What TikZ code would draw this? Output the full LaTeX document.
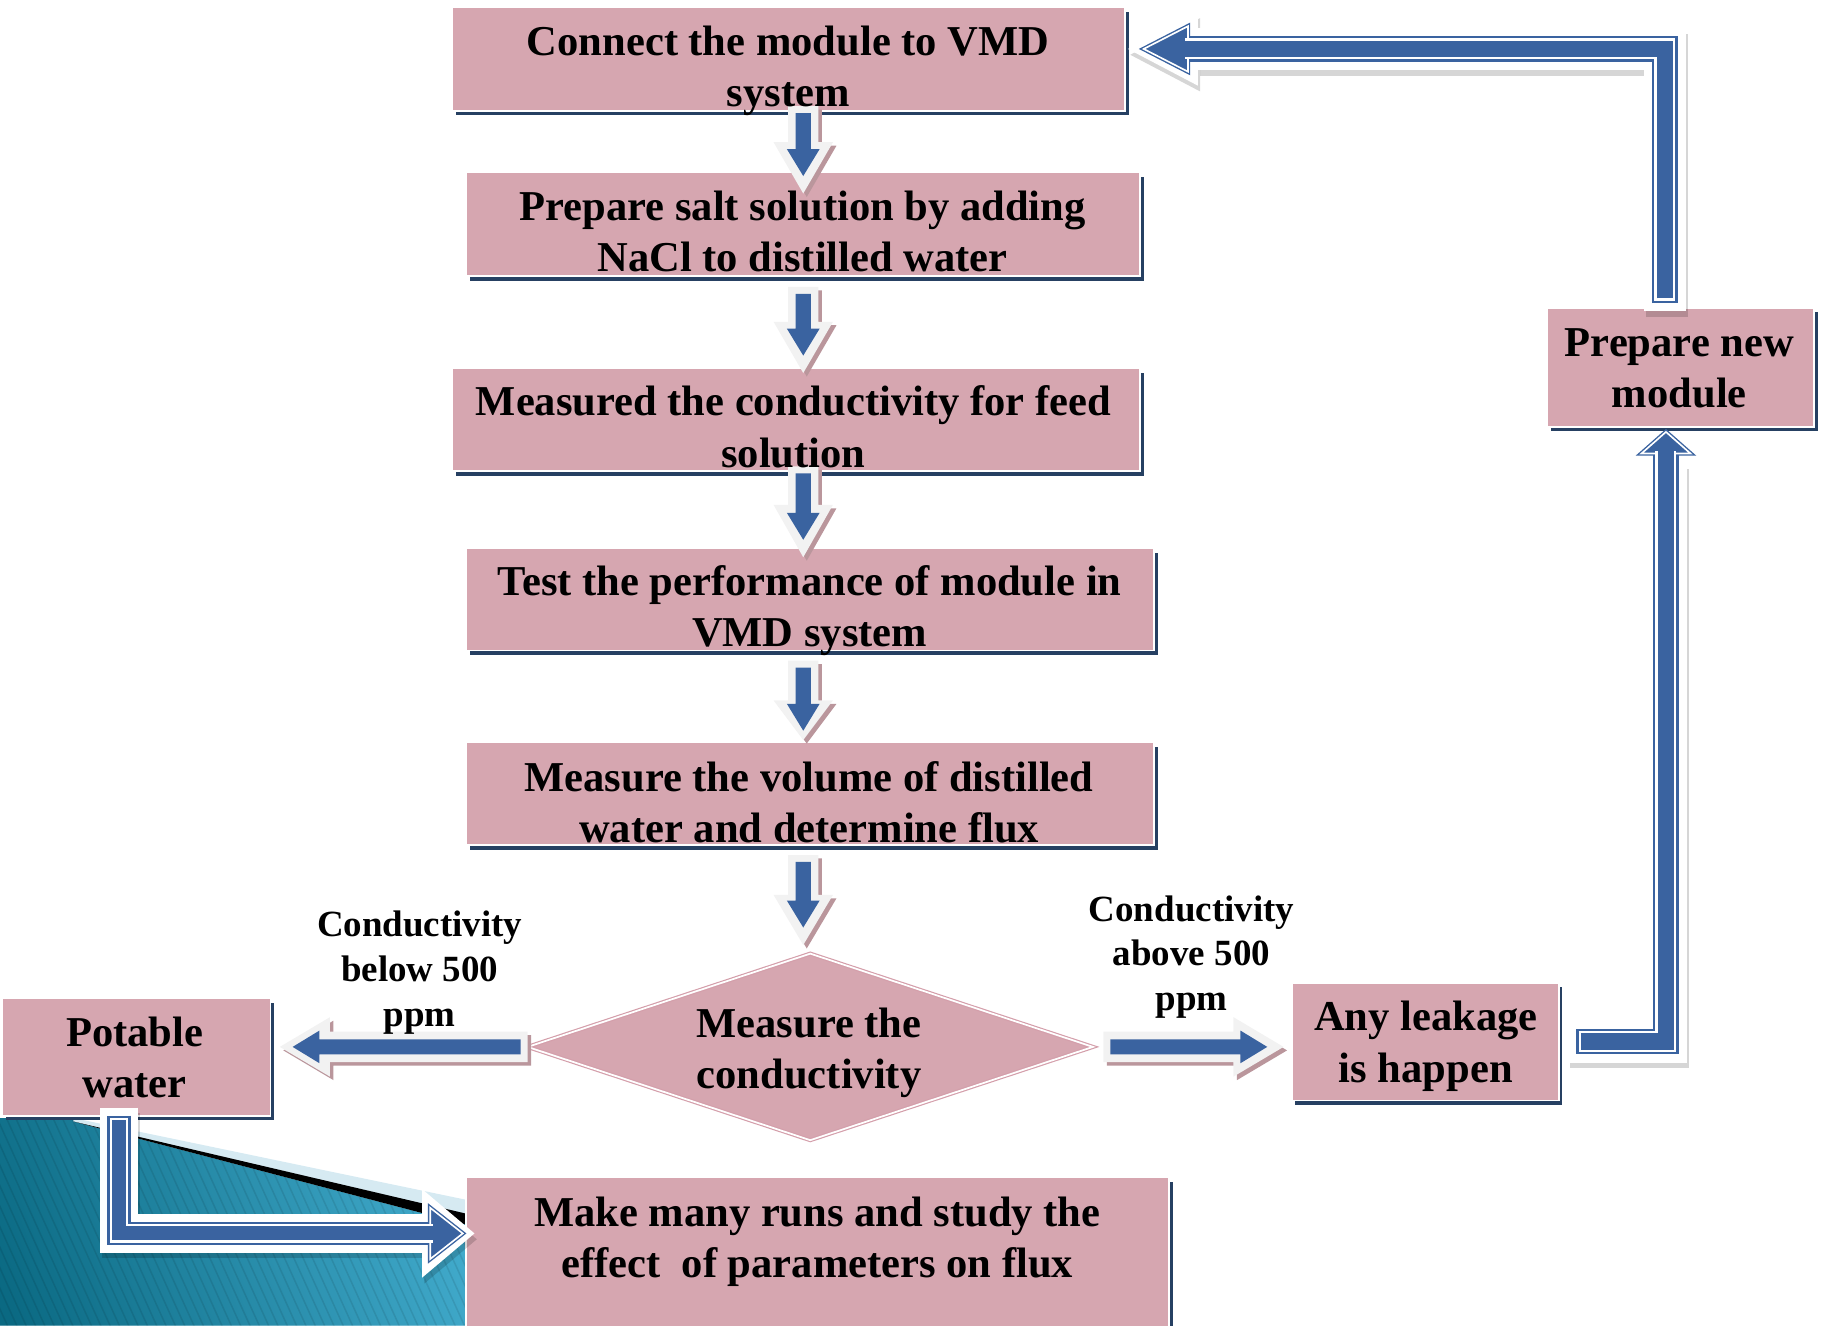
\documentclass[tikz,border=0pt]{standalone}
\usepackage{fontspec}
\setmainfont{Liberation Serif}
\usetikzlibrary{calc,shapes.geometric,shadows}
\definecolor{boxpink}{RGB}{214,166,176}
\definecolor{boxshade}{RGB}{38,64,98}
\definecolor{arrblue}{RGB}{58,99,160}
\definecolor{arrlight}{RGB}{242,242,242}
\definecolor{arrshade}{RGB}{186,150,156}
\definecolor{dialine}{RGB}{212,158,170}
\definecolor{tealA}{RGB}{10,105,130}
\definecolor{tealD}{RGB}{70,176,210}
\definecolor{bandblue}{RGB}{214,234,242}
\newcommand\mytop{\rule{0pt}{0.7em}}
\newcommand\mybot{\rule[-0.22em]{0pt}{0.22em}}
% polygon of a block arrow: [style]{tail}{head base}{tip}{shaft half}{head half}
\newcommand\arrpoly[6][]{\fill[#1] ($(#2)!#5!90:(#4)$) -- ($(#3)!#5!90:(#4)$) -- ($(#3)!#6!90:(#4)$) -- (#4) -- ($(#3)!#6!-90:(#4)$) -- ($(#3)!#5!-90:(#4)$) -- ($(#2)!#5!-90:(#4)$) -- cycle;}
% triangle head: [style]{base}{tip}{half width}
\newcommand\headtri[4][]{\path[#1] ($(#2)!#4!90:(#3)$) -- (#3) -- ($(#2)!#4!-90:(#3)$) -- cycle;}
% straight block arrow: {tail}{tip}{head length}{blue tip inset}
\newcommand\blockarrow[4]{%
  \coordinate (ba-s) at (#1);
  \coordinate (ba-e) at (#2);
  \coordinate (ba-h) at ($(ba-e)!#3!(ba-s)$);
  \coordinate (ba-is) at ($(ba-s)!6pt!(ba-e)$);
  \coordinate (ba-ie) at ($(ba-e)!#4!(ba-s)$);
  \coordinate (ba-ih) at ($(ba-ie)!23pt!(ba-s)$);
  \arrpoly[arrshade,transform canvas={xshift=3pt,yshift=-3pt}]{ba-s}{ba-h}{ba-e}{13pt}{25.5pt}
  \arrpoly[arrlight]{ba-s}{ba-h}{ba-e}{13pt}{25.5pt}
  \arrpoly[arrblue]{ba-is}{ba-ih}{ba-ie}{6.5pt}{14pt}}
\begin{document}
\begin{tikzpicture}[x=1pt,y=1pt,
  box/.style={rectangle, fill=boxpink, draw=white, line width=1.5pt, inner sep=0pt, outer sep=0pt,
    drop shadow={shadow xshift=3pt, shadow yshift=-4pt, fill=boxshade, opacity=1}},
  boxtext/.style={font=\fontsize{36.5}{44}\selectfont\bfseries, align=center, inner sep=0pt, yshift=-3pt},
  lbltext/.style={font=\fontsize{31.7}{38.5}\selectfont\bfseries, align=center, inner sep=0pt, yshift=-2.5pt},
  bentshadow/.style={black, opacity=0.16, transform canvas={xshift=2pt,yshift=-5pt}},
  bluehead/.style={fill=arrblue, draw=arrblue, line width=1.2pt, double=white, double distance=1.4pt, line join=miter}]
\useasboundingbox (0,0) rectangle (1568,1137);
\clip (0,0) rectangle (1568,1137);
% ---- background decoration (bottom left)
\fill[bandblue] (0,178) -- (62.9,178) -- (404,107) -- (404,0) -- (0,0) -- cycle;
\begin{scope}
  \clip (0,178) -- (62.9,178) -- (62.9,175) -- (404,85.5) -- (404,0) -- (0,0) -- cycle;
  \shade[left color=tealA, right color=tealD, shading angle=110] (-40,-40) rectangle (444,218);
  \foreach \i in {-120,-112,...,420} \draw[black, opacity=0.09, line width=1.3pt] (\i,190) -- ++(95,-209);
\end{scope}
\fill[black] (62.9,175) -- (404,95) -- (404,85.5) -- cycle;
% ---- boxes
\node[box, minimum width=577pt, minimum height=89pt] (b1) at (676.5,1086.5) {};
\node[box, minimum width=578pt, minimum height=89pt] (b2) at (689,944.5) {};
\node[box, minimum width=590pt, minimum height=88pt] (b3) at (683,777) {};
\node[box, minimum width=590pt, minimum height=88pt] (b4) at (695,623) {};
\node[box, minimum width=590pt, minimum height=88pt] (b5) at (695,456) {};
\node[diamond, aspect=3, minimum width=485pt, minimum height=160pt, inner sep=0pt, outer sep=0pt,
  fill=boxpink, draw=dialine, line width=1pt, double=white, double distance=1.5pt] (dia) at (695,239) {};
\node[box, minimum width=230pt, minimum height=101pt] (b7) at (117,230.5) {};
\node[box, minimum width=229pt, minimum height=101pt] (b8) at (1222.5,243.5) {};
\node[box, minimum width=229pt, minimum height=102pt] (b9) at (1441.5,822) {};
\node[box, minimum width=603pt, minimum height=140pt] (b10) at (701.5,57) {};
% ---- straight arrows
\coordinate (col) at (689,0);
\blockarrow{$(b1.south -| col)+(0,4)$}{$(b2.north -| col)+(0,-18)$}{44pt}{15pt}
\blockarrow{$(b2.south -| col)+(0,-9)$}{$(b3.north -| col)+(0,-4)$}{44pt}{15pt}
\blockarrow{$(b3.south -| col)+(0,4)$}{$(b4.north -| col)+(0,-8)$}{45pt}{15pt}
\blockarrow{$(b4.south -| col)+(0,-8.7)$}{$(b5.north -| col)+(0,2.2)$}{34pt}{8pt}
\blockarrow{$(b5.south -| col)+(0,-8.4)$}{$(dia.north -| col)+(0,7.4)$}{43pt}{15pt}
\blockarrow{dia.west}{$(dia.west -| b7.east)+(8,0)$}{43pt}{11pt}
\blockarrow{$(dia.east)+(9,0)$}{$(dia.east -| b8.west)+(-7,0)$}{43pt}{14pt}
% ---- bent arrow: Potable water -> Make many runs
\coordinate (A0) at ($(b7.south west)+(100,7)$);
\coordinate (At) at ($(b10.north west)+(7,-48)$);
\coordinate (A1) at (A0 |- At);
\coordinate (Awb) at ($(At)+(-45,0)$);
\coordinate (Abt) at ($(At)+(-10,0)$);
\coordinate (Abb) at ($(At)+(-38,0)$);
\draw[bentshadow, line width=33pt] (A0) -- (A1) -- (Awb);
\headtri[bentshadow, fill=black]{Awb}{At}{38pt}
\draw[white, line width=33pt] (A0) -- (A1) -- (Awb);
\headtri[fill=white]{Awb}{At}{38pt}
\draw[arrblue, line width=20pt] ($(A0)+(0,-7)$) -- (A1) -- (Abb);
\headtri[bluehead]{Abb}{Abt}{22pt}
\draw[white, line width=16pt] ($(A0)+(0,-9)$) -- (A1) -- ($(Abb)+(2.5,0)$);
\draw[arrblue, line width=12pt] ($(A0)+(0,-11)$) -- (A1) -- ($(Abb)+(5,0)$);
% ---- bent arrow: Any leakage -> Prepare new module
\coordinate (B0) at ($(b8.east)+(8,0)$);
\coordinate (Bt) at ($(b9.south)+(-12.5,-4.5)$);
\coordinate (B1) at (Bt |- B0);
\coordinate (Bbb) at ($(Bt)+(0,-18.5)$);
\draw[bentshadow, line width=36pt] (B0) -- (B1) -- ($(Bbb)+(0,-8)$);
\draw[white, line width=36pt] (B0) -- (B1) -- (Bbb);
\draw[arrblue, line width=22pt] ($(B0)+(7,0)$) -- (B1) -- (Bbb);
\headtri[bluehead]{Bbb}{Bt}{21pt}
\draw[white, line width=18pt] ($(B0)+(9,0)$) -- (B1) -- ($(Bbb)+(0,2.5)$);
\draw[arrblue, line width=14pt] ($(B0)+(11,0)$) -- (B1) -- ($(Bbb)+(0,5)$);
% ---- bent arrow: Prepare new module -> Connect the module
\coordinate (C0) at ($(b9.north)+(-13.5,-3)$);
\coordinate (Ct) at ($(b1.east)+(2.5,8.5)$);
\coordinate (C1) at (C0 |- Ct);
\coordinate (Cwb) at ($(Ct)+(60,0)$);
\coordinate (Cbt) at ($(Ct)+(13.5,0)$);
\coordinate (Cbb) at ($(Ct)+(51.5,0)$);
\draw[bentshadow, line width=36pt] (C0) -- (C1) -- (Cwb);
\headtri[bentshadow, fill=black]{Cwb}{Ct}{31.5pt}
\draw[white, line width=36pt] (C0) -- (C1) -- (Cwb);
\headtri[fill=white]{Cwb}{Ct}{31.5pt}
\draw[arrblue, line width=22pt] ($(C0)+(0,7)$) -- (C1) -- (Cbb);
\headtri[bluehead]{Cbb}{Cbt}{19.5pt}
\draw[white, line width=18pt] ($(C0)+(0,9)$) -- (C1) -- ($(Cbb)+(-2.5,0)$);
\draw[arrblue, line width=14pt] ($(C0)+(0,11)$) -- (C1) -- ($(Cbb)+(-5,0)$);
% ---- texts
\node[boxtext] (t1) at (676,1079) {\mytop Connect the module to VMD\\system\mybot};
\node[boxtext] (t2) at (688.5,937.5) {\mytop Prepare salt solution by adding\\NaCl to distilled water\mybot};
\node[boxtext] (t3) at (680.5,770) {\mytop Measured the conductivity for feed\\solution\mybot};
\node[boxtext] (t4) at (694.5,616) {\mytop Test the performance of module in\\VMD system\mybot};
\node[boxtext] (t5) at (694,448) {\mytop Measure the volume of distilled\\water and determine flux\mybot};
\node[boxtext] (td) at (694,237) {\mytop Measure the\\conductivity\mybot};
\node[boxtext] (t7) at (115.5,229) {\mytop Potable\\water\mybot};
\node[boxtext] (t8) at (1223,242.5) {\mytop Any leakage\\is happen\mybot};
\node[boxtext] (t9) at (1440.5,821) {\mytop Prepare new\\module\mybot};
\node[boxtext] (t10) at (701,75) {\mytop Make many runs and study the\\effect\ \ of parameters on flux\mybot};
\node[lbltext] (l1) at (360,305.5) {\mytop Conductivity\\below 500\\ppm\mybot};
\node[lbltext] (l2) at (1022,318.5) {\mytop Conductivity\\above 500\\ppm\mybot};
\end{tikzpicture}
\end{document}
